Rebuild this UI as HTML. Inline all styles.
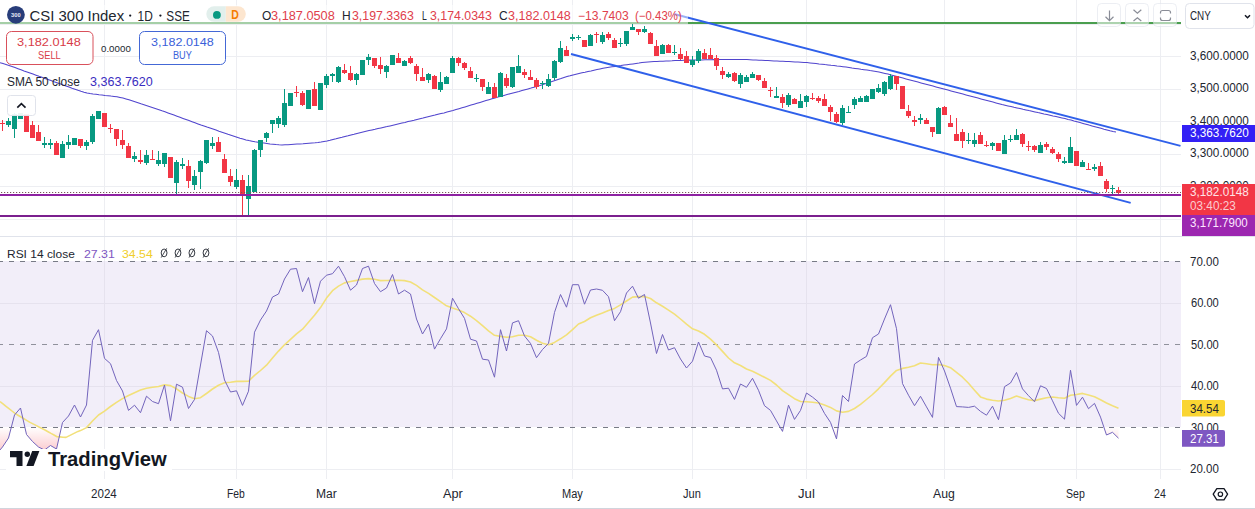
<!DOCTYPE html>
<html><head><meta charset="utf-8">
<style>
html,body{margin:0;padding:0;background:#fff;}
body{width:1255px;height:509px;overflow:hidden;position:relative;font-family:"Liberation Sans", sans-serif;color:#131722;}
</style></head>
<body>
<svg width="1255" height="509" viewBox="0 0 1255 509" style="position:absolute;left:0;top:0">
<defs>
<linearGradient id="osg" x1="0" y1="427" x2="0" y2="520" gradientUnits="userSpaceOnUse">
<stop offset="0" stop-color="#F23645" stop-opacity="0"/>
<stop offset="1" stop-color="#F23645" stop-opacity="1"/>
</linearGradient>
<clipPath id="below30"><rect x="0" y="427" width="1181" height="60"/></clipPath>
</defs>
<g shape-rendering="crispEdges">
<rect x="104" y="0" width="1" height="236" fill="#EDEEF2"/><rect x="104" y="237" width="1" height="242" fill="#EDEEF2"/><rect x="236" y="0" width="1" height="236" fill="#EDEEF2"/><rect x="236" y="237" width="1" height="242" fill="#EDEEF2"/><rect x="326" y="0" width="1" height="236" fill="#EDEEF2"/><rect x="326" y="237" width="1" height="242" fill="#EDEEF2"/><rect x="452" y="0" width="1" height="236" fill="#EDEEF2"/><rect x="452" y="237" width="1" height="242" fill="#EDEEF2"/><rect x="572" y="0" width="1" height="236" fill="#EDEEF2"/><rect x="572" y="237" width="1" height="242" fill="#EDEEF2"/><rect x="692" y="0" width="1" height="236" fill="#EDEEF2"/><rect x="692" y="237" width="1" height="242" fill="#EDEEF2"/><rect x="806" y="0" width="1" height="236" fill="#EDEEF2"/><rect x="806" y="237" width="1" height="242" fill="#EDEEF2"/><rect x="944" y="0" width="1" height="236" fill="#EDEEF2"/><rect x="944" y="237" width="1" height="242" fill="#EDEEF2"/><rect x="1076" y="0" width="1" height="236" fill="#EDEEF2"/><rect x="1076" y="237" width="1" height="242" fill="#EDEEF2"/><rect x="1160" y="0" width="1" height="236" fill="#EDEEF2"/><rect x="1160" y="237" width="1" height="242" fill="#EDEEF2"/><rect x="0" y="24" width="1181" height="1" fill="#EDEEF2"/><rect x="0" y="56" width="1181" height="1" fill="#EDEEF2"/><rect x="0" y="89" width="1181" height="1" fill="#EDEEF2"/><rect x="0" y="121" width="1181" height="1" fill="#EDEEF2"/><rect x="0" y="154" width="1181" height="1" fill="#EDEEF2"/><rect x="0" y="186" width="1181" height="1" fill="#EDEEF2"/><rect x="0" y="219" width="1181" height="1" fill="#EDEEF2"/>
<rect x="0" y="261" width="1181" height="166" fill="#F2EEF9"/>
<rect x="0" y="303" width="1181" height="1" fill="#E6E2EE"/><rect x="0" y="386" width="1181" height="1" fill="#E6E2EE"/><rect x="0" y="469" width="1181" height="1" fill="#EDEEF2"/>
<rect x="104" y="261" width="1" height="166" fill="#E6E2EE"/><rect x="236" y="261" width="1" height="166" fill="#E6E2EE"/><rect x="326" y="261" width="1" height="166" fill="#E6E2EE"/><rect x="452" y="261" width="1" height="166" fill="#E6E2EE"/><rect x="572" y="261" width="1" height="166" fill="#E6E2EE"/><rect x="692" y="261" width="1" height="166" fill="#E6E2EE"/><rect x="806" y="261" width="1" height="166" fill="#E6E2EE"/><rect x="944" y="261" width="1" height="166" fill="#E6E2EE"/><rect x="1076" y="261" width="1" height="166" fill="#E6E2EE"/><rect x="1160" y="261" width="1" height="166" fill="#E6E2EE"/>
</g>
<path d="M-3.5,427 L-3.5,454.0 L2.5,447.0 L8.5,438.0 L14.5,415.0 L20.5,408.0 L26.5,434.5 L32.5,441.5 L38.5,447.0 L44.5,450.0 L50.5,445.5 L56.5,449.0 L62.5,422.5 L68.5,416.0 L74.5,405.0 L80.5,417.0 L86.5,405.0 L92.5,340.4 L98.5,329.7 L104.5,358.4 L110.5,363.7 L116.5,380.5 L122.5,391.0 L128.5,410.4 L134.5,405.2 L140.5,412.7 L146.5,396.2 L152.5,401.5 L158.5,403.7 L164.5,385.0 L170.5,420.9 L176.5,384.2 L182.5,387.2 L188.5,408.5 L194.5,399.5 L200.5,365.0 L206.5,330.7 L212.5,336.0 L218.5,352.4 L224.5,380.0 L230.5,392.0 L236.5,390.8 L242.5,405.4 L248.5,391.2 L254.5,332.2 L260.5,320.0 L266.5,311.0 L272.5,297.0 L278.5,294.0 L284.5,279.0 L290.5,269.2 L296.5,268.5 L302.5,291.7 L308.5,277.5 L314.5,303.7 L320.5,281.2 L326.5,275.2 L332.5,273.7 L338.5,266.2 L344.5,276.7 L350.5,290.2 L356.5,285.0 L362.5,268.5 L368.5,266.2 L374.5,283.5 L380.5,291.7 L386.5,288.0 L392.5,274.5 L398.5,294.0 L404.5,290.2 L410.5,294.0 L416.5,319.0 L422.5,334.0 L428.5,324.2 L434.5,349.1 L440.5,338.7 L446.5,328.9 L452.5,298.2 L458.5,308.7 L464.5,318.4 L470.5,339.2 L476.5,341.0 L482.5,359.2 L488.5,360.0 L494.5,377.2 L500.5,329.7 L506.5,351.0 L512.5,322.9 L518.5,320.7 L524.5,336.0 L530.5,343.4 L536.5,357.7 L542.5,349.5 L548.5,343.4 L554.5,312.4 L560.5,294.5 L566.5,307.2 L572.5,284.7 L578.5,284.7 L584.5,304.2 L590.5,290.0 L596.5,289.0 L602.5,290.3 L608.5,296.7 L614.5,320.7 L620.5,311.7 L626.5,293.0 L632.5,286.2 L638.5,298.2 L644.5,294.5 L650.5,323.0 L656.5,353.5 L662.5,334.5 L668.5,350.0 L674.5,347.7 L680.5,359.0 L686.5,368.0 L692.5,361.2 L698.5,342.0 L704.5,356.0 L710.5,357.5 L716.5,370.2 L722.5,388.9 L728.5,388.2 L734.5,399.4 L740.5,384.0 L746.5,387.3 L752.5,378.3 L758.5,390.3 L764.5,405.7 L770.5,410.4 L776.5,420.9 L782.5,431.4 L788.5,405.2 L794.5,419.4 L800.5,410.4 L806.5,393.0 L812.5,397.1 L818.5,402.0 L824.5,413.4 L830.5,422.4 L836.5,438.9 L842.5,395.5 L848.5,401.5 L854.5,364.0 L860.5,360.0 L866.5,356.4 L872.5,337.7 L878.5,334.0 L884.5,319.0 L890.5,304.7 L896.5,328.7 L902.5,383.6 L908.5,395.2 L914.5,405.7 L920.5,396.3 L926.5,406.9 L932.5,417.4 L938.5,357.4 L944.5,371.0 L950.5,388.2 L956.5,406.6 L962.5,406.9 L968.5,407.4 L974.5,406.2 L980.5,411.4 L986.5,415.2 L992.5,406.2 L998.5,419.7 L1004.5,386.7 L1010.5,383.0 L1016.5,372.5 L1022.5,388.9 L1028.5,395.7 L1034.5,401.7 L1040.5,385.8 L1046.5,388.5 L1052.5,400.8 L1058.5,413.3 L1064.5,419.2 L1070.5,370.2 L1076.5,405.4 L1082.5,397.2 L1088.5,408.7 L1094.5,403.4 L1100.5,417.1 L1106.5,435.0 L1112.5,432.3 L1118.5,438.2 L1118.5,427 Z" fill="url(#osg)" clip-path="url(#below30)"/>
<!-- pane separator -->
<rect x="0" y="236" width="1255" height="1" fill="#E0E3EB" shape-rendering="crispEdges"/>
<!-- dashed RSI levels -->
<line x1="0" y1="261.5" x2="1181" y2="261.5" stroke="#787B86" stroke-width="1" stroke-dasharray="5 6" stroke-dashoffset="2"/>
<line x1="0" y1="344.5" x2="1181" y2="344.5" stroke="#787B86" stroke-width="1" stroke-dasharray="5 6" stroke-dashoffset="2" opacity="0.8"/>
<line x1="0" y1="427.5" x2="1181" y2="427.5" stroke="#787B86" stroke-width="1" stroke-dasharray="5 6" stroke-dashoffset="2"/>
<!-- green horizontal line -->
<rect x="0" y="22" width="1181" height="2" fill="#4A9E4E" shape-rendering="crispEdges"/>
<!-- SMA -->
<path d="M0.0,62.8 L3.0,63.5 L6.0,64.4 L9.0,65.4 L12.0,66.5 L15.0,67.6 L18.0,68.7 L21.0,69.8 L24.0,70.9 L27.0,71.9 L30.0,73.0 L33.0,74.1 L36.0,75.2 L39.0,76.3 L42.0,77.3 L45.0,78.4 L48.0,79.5 L51.0,80.6 L54.0,81.7 L57.0,82.7 L60.0,83.8 L63.0,84.9 L66.0,86.0 L69.0,87.1 L72.0,88.2 L75.0,89.2 L78.0,90.3 L81.0,91.3 L84.0,92.2 L87.0,93.0 L90.0,93.6 L93.0,94.0 L96.0,94.3 L99.0,94.7 L102.0,95.0 L105.0,95.4 L108.0,95.7 L111.0,96.1 L114.0,96.4 L117.0,96.8 L120.0,97.4 L123.0,98.1 L126.0,98.9 L129.0,99.8 L132.0,100.8 L135.0,101.8 L138.0,102.8 L141.0,103.8 L144.0,104.7 L147.0,105.7 L150.0,106.7 L153.0,107.7 L156.0,108.7 L159.0,109.7 L162.0,110.8 L165.0,111.8 L168.0,112.9 L171.0,114.0 L174.0,115.1 L177.0,116.2 L180.0,117.3 L183.0,118.4 L186.0,119.5 L189.0,120.6 L192.0,121.7 L195.0,122.8 L198.0,123.9 L201.0,125.0 L204.0,126.0 L207.0,127.1 L210.0,128.1 L213.0,129.1 L216.0,130.1 L219.0,131.2 L222.0,132.2 L225.0,133.2 L228.0,134.3 L231.0,135.3 L234.0,136.3 L237.0,137.3 L240.0,138.3 L243.0,139.1 L246.0,139.9 L249.0,140.6 L252.0,141.2 L255.0,141.8 L258.0,142.3 L261.0,142.7 L264.0,143.1 L267.0,143.5 L270.0,143.9 L273.0,144.2 L276.0,144.6 L279.0,144.8 L282.0,144.9 L285.0,144.8 L288.0,144.7 L291.0,144.5 L294.0,144.3 L297.0,144.1 L300.0,143.9 L303.0,143.7 L306.0,143.4 L309.0,143.2 L312.0,143.0 L315.0,142.8 L318.0,142.5 L321.0,142.1 L324.0,141.5 L327.0,140.9 L330.0,140.2 L333.0,139.4 L336.0,138.7 L339.0,137.9 L342.0,137.2 L345.0,136.4 L348.0,135.7 L351.0,134.9 L354.0,134.2 L357.0,133.4 L360.0,132.7 L363.0,132.0 L366.0,131.3 L369.0,130.6 L372.0,129.9 L375.0,129.3 L378.0,128.6 L381.0,127.9 L384.0,127.2 L387.0,126.6 L390.0,125.9 L393.0,125.2 L396.0,124.5 L399.0,123.8 L402.0,123.1 L405.0,122.4 L408.0,121.6 L411.0,120.9 L414.0,120.2 L417.0,119.4 L420.0,118.7 L423.0,118.0 L426.0,117.2 L429.0,116.5 L432.0,115.8 L435.0,115.1 L438.0,114.3 L441.0,113.6 L444.0,112.9 L447.0,112.1 L450.0,111.3 L453.0,110.5 L456.0,109.6 L459.0,108.7 L462.0,107.8 L465.0,106.9 L468.0,106.0 L471.0,105.1 L474.0,104.2 L477.0,103.3 L480.0,102.4 L483.0,101.5 L486.0,100.6 L489.0,99.7 L492.0,98.8 L495.0,97.9 L498.0,97.1 L501.0,96.3 L504.0,95.4 L507.0,94.6 L510.0,93.8 L513.0,93.0 L516.0,92.2 L519.0,91.4 L522.0,90.5 L525.0,89.7 L528.0,88.9 L531.0,88.1 L534.0,87.2 L537.0,86.3 L540.0,85.4 L543.0,84.4 L546.0,83.4 L549.0,82.5 L552.0,81.5 L555.0,80.5 L558.0,79.5 L561.0,78.6 L564.0,77.6 L567.0,76.6 L570.0,75.8 L573.0,74.9 L576.0,74.2 L579.0,73.5 L582.0,72.8 L585.0,72.2 L588.0,71.5 L591.0,70.9 L594.0,70.2 L597.0,69.5 L600.0,68.9 L603.0,68.3 L606.0,67.8 L609.0,67.3 L612.0,66.8 L615.0,66.4 L618.0,66.0 L621.0,65.6 L624.0,65.1 L627.0,64.7 L630.0,64.3 L633.0,63.9 L636.0,63.5 L639.0,63.1 L642.0,62.6 L645.0,62.3 L648.0,62.0 L651.0,61.7 L654.0,61.5 L657.0,61.4 L660.0,61.3 L663.0,61.2 L666.0,61.0 L669.0,60.9 L672.0,60.8 L675.0,60.6 L678.0,60.5 L681.0,60.4 L684.0,60.3 L687.0,60.2 L690.0,60.1 L693.0,60.1 L696.0,60.0 L699.0,59.9 L702.0,59.9 L705.0,59.8 L708.0,59.7 L711.0,59.7 L714.0,59.6 L717.0,59.6 L720.0,59.5 L723.0,59.5 L726.0,59.5 L729.0,59.5 L732.0,59.5 L735.0,59.5 L738.0,59.5 L741.0,59.5 L744.0,59.5 L747.0,59.6 L750.0,59.7 L753.0,59.9 L756.0,60.0 L759.0,60.2 L762.0,60.3 L765.0,60.5 L768.0,60.6 L771.0,60.7 L774.0,60.9 L777.0,61.0 L780.0,61.2 L783.0,61.3 L786.0,61.5 L789.0,61.6 L792.0,61.7 L795.0,61.9 L798.0,62.0 L801.0,62.2 L804.0,62.4 L807.0,62.6 L810.0,62.9 L813.0,63.2 L816.0,63.5 L819.0,63.9 L822.0,64.2 L825.0,64.6 L828.0,64.9 L831.0,65.3 L834.0,65.6 L837.0,66.0 L840.0,66.3 L843.0,66.7 L846.0,67.1 L849.0,67.5 L852.0,68.0 L855.0,68.4 L858.0,68.8 L861.0,69.3 L864.0,69.7 L867.0,70.1 L870.0,70.6 L873.0,71.0 L876.0,71.5 L879.0,72.0 L882.0,72.7 L885.0,73.4 L888.0,74.1 L891.0,74.9 L894.0,75.7 L897.0,76.5 L900.0,77.3 L903.0,78.1 L906.0,78.9 L909.0,79.7 L912.0,80.5 L915.0,81.3 L918.0,82.1 L921.0,82.9 L924.0,83.7 L927.0,84.5 L930.0,85.3 L933.0,86.1 L936.0,86.9 L939.0,87.7 L942.0,88.5 L945.0,89.3 L948.0,90.1 L951.0,90.9 L954.0,91.7 L957.0,92.5 L960.0,93.3 L963.0,94.1 L966.0,94.9 L969.0,95.7 L972.0,96.5 L975.0,97.3 L978.0,98.1 L981.0,98.9 L984.0,99.7 L987.0,100.5 L990.0,101.3 L993.0,102.1 L996.0,102.9 L999.0,103.7 L1002.0,104.5 L1005.0,105.2 L1008.0,105.9 L1011.0,106.6 L1014.0,107.3 L1017.0,107.9 L1020.0,108.6 L1023.0,109.3 L1026.0,109.9 L1029.0,110.6 L1032.0,111.2 L1035.0,111.9 L1038.0,112.6 L1041.0,113.2 L1044.0,113.9 L1047.0,114.5 L1050.0,115.2 L1053.0,115.9 L1056.0,116.5 L1059.0,117.2 L1062.0,117.9 L1065.0,118.6 L1068.0,119.4 L1071.0,120.1 L1074.0,121.0 L1077.0,121.8 L1080.0,122.6 L1083.0,123.4 L1086.0,124.2 L1089.0,125.1 L1092.0,125.9 L1095.0,126.7 L1098.0,127.5 L1101.0,128.3 L1104.0,129.2 L1107.0,130.0 L1110.0,130.8 L1113.0,131.5 L1116.0,132.0" fill="none" stroke="#3D30C8" stroke-width="1.05" opacity="0.9"/>
<!-- candles -->
<g shape-rendering="crispEdges"><rect x="2" y="120" width="1" height="11" fill="#F23645"/><rect x="0" y="123" width="5" height="1" fill="#F23645"/><rect x="8" y="118" width="1" height="9" fill="#089981"/><rect x="6" y="121" width="5" height="4" fill="#089981"/><rect x="14" y="113" width="1" height="25" fill="#089981"/><rect x="12" y="114" width="5" height="15" fill="#089981"/><rect x="20" y="113" width="1" height="6" fill="#089981"/><rect x="18" y="113" width="5" height="6" fill="#089981"/><rect x="26" y="114" width="1" height="18" fill="#F23645"/><rect x="24" y="114" width="5" height="18" fill="#F23645"/><rect x="32" y="121" width="1" height="17" fill="#F23645"/><rect x="30" y="125" width="5" height="13" fill="#F23645"/><rect x="38" y="125" width="1" height="16" fill="#F23645"/><rect x="36" y="132" width="5" height="9" fill="#F23645"/><rect x="44" y="137" width="1" height="11" fill="#089981"/><rect x="42" y="143" width="5" height="2" fill="#089981"/><rect x="50" y="139" width="1" height="10" fill="#089981"/><rect x="48" y="143" width="5" height="2" fill="#089981"/><rect x="56" y="141" width="1" height="14" fill="#F23645"/><rect x="54" y="143" width="5" height="12" fill="#F23645"/><rect x="62" y="141" width="1" height="17" fill="#089981"/><rect x="60" y="144" width="5" height="14" fill="#089981"/><rect x="68" y="135" width="1" height="14" fill="#089981"/><rect x="66" y="142" width="5" height="3" fill="#089981"/><rect x="74" y="138" width="1" height="7" fill="#089981"/><rect x="72" y="138" width="5" height="7" fill="#089981"/><rect x="80" y="139" width="1" height="9" fill="#F23645"/><rect x="78" y="139" width="5" height="7" fill="#F23645"/><rect x="86" y="140" width="1" height="10" fill="#089981"/><rect x="84" y="142" width="5" height="4" fill="#089981"/><rect x="92" y="114" width="1" height="30" fill="#089981"/><rect x="90" y="116" width="5" height="26" fill="#089981"/><rect x="98" y="111" width="1" height="8" fill="#089981"/><rect x="96" y="111" width="5" height="8" fill="#089981"/><rect x="104" y="113" width="1" height="14" fill="#F23645"/><rect x="102" y="113" width="5" height="14" fill="#F23645"/><rect x="110" y="124" width="1" height="9" fill="#F23645"/><rect x="108" y="128" width="5" height="1" fill="#F23645"/><rect x="116" y="129" width="1" height="17" fill="#F23645"/><rect x="114" y="129" width="5" height="10" fill="#F23645"/><rect x="122" y="130" width="1" height="19" fill="#F23645"/><rect x="120" y="140" width="5" height="5" fill="#F23645"/><rect x="128" y="143" width="1" height="15" fill="#F23645"/><rect x="126" y="146" width="5" height="12" fill="#F23645"/><rect x="134" y="152" width="1" height="10" fill="#089981"/><rect x="132" y="156" width="5" height="3" fill="#089981"/><rect x="140" y="150" width="1" height="14" fill="#F23645"/><rect x="138" y="160" width="5" height="2" fill="#F23645"/><rect x="146" y="150" width="1" height="15" fill="#089981"/><rect x="144" y="155" width="5" height="8" fill="#089981"/><rect x="152" y="150" width="1" height="10" fill="#F23645"/><rect x="150" y="159" width="5" height="1" fill="#F23645"/><rect x="158" y="151" width="1" height="15" fill="#089981"/><rect x="156" y="160" width="5" height="4" fill="#089981"/><rect x="164" y="153" width="1" height="14" fill="#089981"/><rect x="162" y="153" width="5" height="11" fill="#089981"/><rect x="170" y="157" width="1" height="21" fill="#F23645"/><rect x="168" y="157" width="5" height="21" fill="#F23645"/><rect x="176" y="160" width="1" height="34" fill="#089981"/><rect x="174" y="162" width="5" height="21" fill="#089981"/><rect x="182" y="158" width="1" height="11" fill="#089981"/><rect x="180" y="164" width="5" height="2" fill="#089981"/><rect x="188" y="160" width="1" height="28" fill="#F23645"/><rect x="186" y="166" width="5" height="15" fill="#F23645"/><rect x="194" y="170" width="1" height="20" fill="#089981"/><rect x="192" y="176" width="5" height="9" fill="#089981"/><rect x="200" y="160" width="1" height="29" fill="#089981"/><rect x="198" y="161" width="5" height="11" fill="#089981"/><rect x="206" y="140" width="1" height="24" fill="#089981"/><rect x="204" y="140" width="5" height="23" fill="#089981"/><rect x="212" y="137" width="1" height="12" fill="#089981"/><rect x="210" y="143" width="5" height="3" fill="#089981"/><rect x="218" y="137" width="1" height="15" fill="#F23645"/><rect x="216" y="142" width="5" height="10" fill="#F23645"/><rect x="224" y="154" width="1" height="19" fill="#F23645"/><rect x="222" y="159" width="5" height="14" fill="#F23645"/><rect x="230" y="169" width="1" height="17" fill="#F23645"/><rect x="228" y="176" width="5" height="6" fill="#F23645"/><rect x="236" y="169" width="1" height="20" fill="#089981"/><rect x="234" y="180" width="5" height="7" fill="#089981"/><rect x="242" y="175" width="1" height="41" fill="#F23645"/><rect x="240" y="180" width="5" height="14" fill="#F23645"/><rect x="248" y="175" width="1" height="41" fill="#089981"/><rect x="246" y="186" width="5" height="13" fill="#089981"/><rect x="254" y="149" width="1" height="43" fill="#089981"/><rect x="252" y="150" width="5" height="42" fill="#089981"/><rect x="260" y="140" width="1" height="17" fill="#089981"/><rect x="258" y="140" width="5" height="10" fill="#089981"/><rect x="266" y="132" width="1" height="10" fill="#089981"/><rect x="264" y="133" width="5" height="5" fill="#089981"/><rect x="272" y="120" width="1" height="13" fill="#089981"/><rect x="270" y="120" width="5" height="4" fill="#089981"/><rect x="278" y="116" width="1" height="12" fill="#089981"/><rect x="276" y="118" width="5" height="6" fill="#089981"/><rect x="284" y="89" width="1" height="38" fill="#089981"/><rect x="282" y="103" width="5" height="22" fill="#089981"/><rect x="290" y="93" width="1" height="13" fill="#089981"/><rect x="288" y="93" width="5" height="13" fill="#089981"/><rect x="296" y="86" width="1" height="11" fill="#F23645"/><rect x="294" y="92" width="5" height="1" fill="#F23645"/><rect x="302" y="91" width="1" height="15" fill="#F23645"/><rect x="300" y="93" width="5" height="12" fill="#F23645"/><rect x="308" y="90" width="1" height="19" fill="#089981"/><rect x="306" y="90" width="5" height="19" fill="#089981"/><rect x="314" y="82" width="1" height="24" fill="#F23645"/><rect x="312" y="89" width="5" height="17" fill="#F23645"/><rect x="320" y="83" width="1" height="27" fill="#089981"/><rect x="318" y="83" width="5" height="27" fill="#089981"/><rect x="326" y="74" width="1" height="14" fill="#089981"/><rect x="324" y="76" width="5" height="9" fill="#089981"/><rect x="332" y="73" width="1" height="9" fill="#089981"/><rect x="330" y="74" width="5" height="2" fill="#089981"/><rect x="338" y="66" width="1" height="17" fill="#089981"/><rect x="336" y="67" width="5" height="15" fill="#089981"/><rect x="344" y="64" width="1" height="10" fill="#F23645"/><rect x="342" y="70" width="5" height="3" fill="#F23645"/><rect x="350" y="66" width="1" height="15" fill="#F23645"/><rect x="348" y="73" width="5" height="7" fill="#F23645"/><rect x="356" y="73" width="1" height="12" fill="#089981"/><rect x="354" y="74" width="5" height="6" fill="#089981"/><rect x="362" y="60" width="1" height="15" fill="#089981"/><rect x="360" y="60" width="5" height="15" fill="#089981"/><rect x="368" y="54" width="1" height="11" fill="#089981"/><rect x="366" y="57" width="5" height="3" fill="#089981"/><rect x="374" y="58" width="1" height="10" fill="#F23645"/><rect x="372" y="58" width="5" height="8" fill="#F23645"/><rect x="380" y="57" width="1" height="17" fill="#F23645"/><rect x="378" y="65" width="5" height="4" fill="#F23645"/><rect x="386" y="65" width="1" height="13" fill="#089981"/><rect x="384" y="66" width="5" height="6" fill="#089981"/><rect x="392" y="55" width="1" height="10" fill="#089981"/><rect x="390" y="55" width="5" height="10" fill="#089981"/><rect x="398" y="53" width="1" height="10" fill="#F23645"/><rect x="396" y="58" width="5" height="5" fill="#F23645"/><rect x="404" y="60" width="1" height="6" fill="#089981"/><rect x="402" y="61" width="5" height="5" fill="#089981"/><rect x="410" y="56" width="1" height="8" fill="#F23645"/><rect x="408" y="58" width="5" height="5" fill="#F23645"/><rect x="416" y="64" width="1" height="17" fill="#F23645"/><rect x="414" y="66" width="5" height="8" fill="#F23645"/><rect x="422" y="68" width="1" height="13" fill="#F23645"/><rect x="420" y="77" width="5" height="4" fill="#F23645"/><rect x="428" y="73" width="1" height="10" fill="#089981"/><rect x="426" y="74" width="5" height="6" fill="#089981"/><rect x="434" y="75" width="1" height="14" fill="#F23645"/><rect x="432" y="76" width="5" height="13" fill="#F23645"/><rect x="440" y="72" width="1" height="20" fill="#089981"/><rect x="438" y="82" width="5" height="8" fill="#089981"/><rect x="446" y="76" width="1" height="8" fill="#089981"/><rect x="444" y="77" width="5" height="7" fill="#089981"/><rect x="452" y="56" width="1" height="17" fill="#089981"/><rect x="450" y="58" width="5" height="15" fill="#089981"/><rect x="458" y="57" width="1" height="9" fill="#F23645"/><rect x="456" y="58" width="5" height="5" fill="#F23645"/><rect x="464" y="62" width="1" height="8" fill="#F23645"/><rect x="462" y="63" width="5" height="5" fill="#F23645"/><rect x="470" y="67" width="1" height="11" fill="#F23645"/><rect x="468" y="71" width="5" height="7" fill="#F23645"/><rect x="476" y="74" width="1" height="8" fill="#089981"/><rect x="474" y="78" width="5" height="1" fill="#089981"/><rect x="482" y="79" width="1" height="12" fill="#F23645"/><rect x="480" y="79" width="5" height="8" fill="#F23645"/><rect x="488" y="82" width="1" height="12" fill="#089981"/><rect x="486" y="87" width="5" height="7" fill="#089981"/><rect x="494" y="83" width="1" height="15" fill="#F23645"/><rect x="492" y="87" width="5" height="11" fill="#F23645"/><rect x="500" y="72" width="1" height="25" fill="#089981"/><rect x="498" y="73" width="5" height="24" fill="#089981"/><rect x="506" y="74" width="1" height="14" fill="#F23645"/><rect x="504" y="78" width="5" height="8" fill="#F23645"/><rect x="512" y="67" width="1" height="21" fill="#089981"/><rect x="510" y="67" width="5" height="20" fill="#089981"/><rect x="518" y="55" width="1" height="18" fill="#089981"/><rect x="516" y="66" width="5" height="7" fill="#089981"/><rect x="524" y="69" width="1" height="9" fill="#F23645"/><rect x="522" y="72" width="5" height="3" fill="#F23645"/><rect x="530" y="70" width="1" height="10" fill="#F23645"/><rect x="528" y="77" width="5" height="3" fill="#F23645"/><rect x="536" y="78" width="1" height="11" fill="#F23645"/><rect x="534" y="80" width="5" height="7" fill="#F23645"/><rect x="542" y="81" width="1" height="8" fill="#089981"/><rect x="540" y="83" width="5" height="1" fill="#089981"/><rect x="548" y="74" width="1" height="13" fill="#089981"/><rect x="546" y="79" width="5" height="7" fill="#089981"/><rect x="554" y="60" width="1" height="20" fill="#089981"/><rect x="552" y="61" width="5" height="17" fill="#089981"/><rect x="560" y="41" width="1" height="22" fill="#089981"/><rect x="558" y="48" width="5" height="14" fill="#089981"/><rect x="566" y="46" width="1" height="10" fill="#F23645"/><rect x="564" y="50" width="5" height="6" fill="#F23645"/><rect x="572" y="34" width="1" height="7" fill="#089981"/><rect x="570" y="37" width="5" height="2" fill="#089981"/><rect x="578" y="35" width="1" height="5" fill="#089981"/><rect x="576" y="37" width="5" height="1" fill="#089981"/><rect x="584" y="40" width="1" height="7" fill="#F23645"/><rect x="582" y="40" width="5" height="7" fill="#F23645"/><rect x="590" y="34" width="1" height="12" fill="#089981"/><rect x="588" y="35" width="5" height="11" fill="#089981"/><rect x="596" y="32" width="1" height="11" fill="#F23645"/><rect x="594" y="34" width="5" height="1" fill="#F23645"/><rect x="602" y="32" width="1" height="12" fill="#089981"/><rect x="600" y="35" width="5" height="7" fill="#089981"/><rect x="608" y="32" width="1" height="8" fill="#F23645"/><rect x="606" y="34" width="5" height="4" fill="#F23645"/><rect x="614" y="38" width="1" height="10" fill="#F23645"/><rect x="612" y="40" width="5" height="8" fill="#F23645"/><rect x="620" y="38" width="1" height="9" fill="#089981"/><rect x="618" y="43" width="5" height="1" fill="#089981"/><rect x="626" y="31" width="1" height="15" fill="#089981"/><rect x="624" y="31" width="5" height="13" fill="#089981"/><rect x="632" y="24" width="1" height="6" fill="#089981"/><rect x="630" y="27" width="5" height="3" fill="#089981"/><rect x="638" y="29" width="1" height="6" fill="#F23645"/><rect x="636" y="29" width="5" height="3" fill="#F23645"/><rect x="644" y="26" width="1" height="7" fill="#089981"/><rect x="642" y="29" width="5" height="3" fill="#089981"/><rect x="650" y="32" width="1" height="12" fill="#F23645"/><rect x="648" y="33" width="5" height="11" fill="#F23645"/><rect x="656" y="40" width="1" height="16" fill="#F23645"/><rect x="654" y="46" width="5" height="10" fill="#F23645"/><rect x="662" y="44" width="1" height="10" fill="#089981"/><rect x="660" y="45" width="5" height="9" fill="#089981"/><rect x="668" y="44" width="1" height="9" fill="#F23645"/><rect x="666" y="45" width="5" height="8" fill="#F23645"/><rect x="674" y="45" width="1" height="10" fill="#089981"/><rect x="672" y="52" width="5" height="1" fill="#089981"/><rect x="680" y="48" width="1" height="12" fill="#F23645"/><rect x="678" y="54" width="5" height="5" fill="#F23645"/><rect x="686" y="51" width="1" height="12" fill="#F23645"/><rect x="684" y="56" width="5" height="7" fill="#F23645"/><rect x="692" y="56" width="1" height="11" fill="#089981"/><rect x="690" y="60" width="5" height="5" fill="#089981"/><rect x="698" y="49" width="1" height="14" fill="#089981"/><rect x="696" y="51" width="5" height="10" fill="#089981"/><rect x="704" y="49" width="1" height="10" fill="#F23645"/><rect x="702" y="53" width="5" height="6" fill="#F23645"/><rect x="710" y="48" width="1" height="11" fill="#F23645"/><rect x="708" y="55" width="5" height="4" fill="#F23645"/><rect x="716" y="55" width="1" height="15" fill="#F23645"/><rect x="714" y="58" width="5" height="8" fill="#F23645"/><rect x="722" y="67" width="1" height="12" fill="#F23645"/><rect x="720" y="71" width="5" height="4" fill="#F23645"/><rect x="728" y="72" width="1" height="6" fill="#089981"/><rect x="726" y="74" width="5" height="3" fill="#089981"/><rect x="734" y="72" width="1" height="10" fill="#F23645"/><rect x="732" y="73" width="5" height="8" fill="#F23645"/><rect x="740" y="73" width="1" height="15" fill="#089981"/><rect x="738" y="75" width="5" height="9" fill="#089981"/><rect x="746" y="75" width="1" height="7" fill="#089981"/><rect x="744" y="77" width="5" height="5" fill="#089981"/><rect x="752" y="72" width="1" height="6" fill="#089981"/><rect x="750" y="74" width="5" height="4" fill="#089981"/><rect x="758" y="75" width="1" height="6" fill="#F23645"/><rect x="756" y="75" width="5" height="5" fill="#F23645"/><rect x="764" y="78" width="1" height="10" fill="#F23645"/><rect x="762" y="81" width="5" height="7" fill="#F23645"/><rect x="770" y="87" width="1" height="10" fill="#F23645"/><rect x="768" y="90" width="5" height="1" fill="#F23645"/><rect x="776" y="87" width="1" height="11" fill="#089981"/><rect x="774" y="96" width="5" height="2" fill="#089981"/><rect x="782" y="94" width="1" height="14" fill="#F23645"/><rect x="780" y="97" width="5" height="6" fill="#F23645"/><rect x="788" y="93" width="1" height="14" fill="#089981"/><rect x="786" y="95" width="5" height="10" fill="#089981"/><rect x="794" y="98" width="1" height="6" fill="#F23645"/><rect x="792" y="99" width="5" height="5" fill="#F23645"/><rect x="800" y="94" width="1" height="14" fill="#089981"/><rect x="798" y="101" width="5" height="7" fill="#089981"/><rect x="806" y="95" width="1" height="12" fill="#089981"/><rect x="804" y="96" width="5" height="6" fill="#089981"/><rect x="812" y="93" width="1" height="7" fill="#F23645"/><rect x="810" y="98" width="5" height="1" fill="#F23645"/><rect x="818" y="96" width="1" height="7" fill="#F23645"/><rect x="816" y="98" width="5" height="3" fill="#F23645"/><rect x="824" y="94" width="1" height="12" fill="#F23645"/><rect x="822" y="99" width="5" height="7" fill="#F23645"/><rect x="830" y="105" width="1" height="16" fill="#F23645"/><rect x="828" y="107" width="5" height="5" fill="#F23645"/><rect x="836" y="112" width="1" height="11" fill="#F23645"/><rect x="834" y="114" width="5" height="8" fill="#F23645"/><rect x="842" y="105" width="1" height="20" fill="#089981"/><rect x="840" y="108" width="5" height="15" fill="#089981"/><rect x="848" y="106" width="1" height="7" fill="#089981"/><rect x="846" y="112" width="5" height="1" fill="#089981"/><rect x="854" y="97" width="1" height="12" fill="#089981"/><rect x="852" y="99" width="5" height="6" fill="#089981"/><rect x="860" y="96" width="1" height="6" fill="#089981"/><rect x="858" y="98" width="5" height="4" fill="#089981"/><rect x="866" y="95" width="1" height="7" fill="#089981"/><rect x="864" y="96" width="5" height="6" fill="#089981"/><rect x="872" y="89" width="1" height="10" fill="#089981"/><rect x="870" y="89" width="5" height="10" fill="#089981"/><rect x="878" y="84" width="1" height="9" fill="#089981"/><rect x="876" y="88" width="5" height="4" fill="#089981"/><rect x="884" y="81" width="1" height="15" fill="#089981"/><rect x="882" y="82" width="5" height="12" fill="#089981"/><rect x="890" y="74" width="1" height="16" fill="#089981"/><rect x="888" y="76" width="5" height="13" fill="#089981"/><rect x="896" y="76" width="1" height="14" fill="#F23645"/><rect x="894" y="76" width="5" height="8" fill="#F23645"/><rect x="902" y="86" width="1" height="23" fill="#F23645"/><rect x="900" y="86" width="5" height="23" fill="#F23645"/><rect x="908" y="105" width="1" height="13" fill="#F23645"/><rect x="906" y="111" width="5" height="5" fill="#F23645"/><rect x="914" y="116" width="1" height="10" fill="#F23645"/><rect x="912" y="120" width="5" height="2" fill="#F23645"/><rect x="920" y="114" width="1" height="10" fill="#089981"/><rect x="918" y="118" width="5" height="2" fill="#089981"/><rect x="926" y="118" width="1" height="6" fill="#F23645"/><rect x="924" y="120" width="5" height="4" fill="#F23645"/><rect x="932" y="127" width="1" height="10" fill="#F23645"/><rect x="930" y="127" width="5" height="5" fill="#F23645"/><rect x="938" y="107" width="1" height="27" fill="#089981"/><rect x="936" y="108" width="5" height="26" fill="#089981"/><rect x="944" y="106" width="1" height="9" fill="#F23645"/><rect x="942" y="107" width="5" height="8" fill="#F23645"/><rect x="950" y="115" width="1" height="12" fill="#F23645"/><rect x="948" y="123" width="5" height="4" fill="#F23645"/><rect x="956" y="118" width="1" height="23" fill="#F23645"/><rect x="954" y="134" width="5" height="7" fill="#F23645"/><rect x="962" y="129" width="1" height="19" fill="#F23645"/><rect x="960" y="132" width="5" height="9" fill="#F23645"/><rect x="968" y="133" width="1" height="11" fill="#089981"/><rect x="966" y="140" width="5" height="1" fill="#089981"/><rect x="974" y="133" width="1" height="14" fill="#089981"/><rect x="972" y="140" width="5" height="4" fill="#089981"/><rect x="980" y="132" width="1" height="12" fill="#F23645"/><rect x="978" y="135" width="5" height="9" fill="#F23645"/><rect x="986" y="141" width="1" height="6" fill="#F23645"/><rect x="984" y="145" width="5" height="1" fill="#F23645"/><rect x="992" y="142" width="1" height="8" fill="#089981"/><rect x="990" y="143" width="5" height="3" fill="#089981"/><rect x="998" y="143" width="1" height="8" fill="#F23645"/><rect x="996" y="143" width="5" height="8" fill="#F23645"/><rect x="1004" y="135" width="1" height="19" fill="#089981"/><rect x="1002" y="140" width="5" height="14" fill="#089981"/><rect x="1010" y="135" width="1" height="7" fill="#089981"/><rect x="1008" y="139" width="5" height="1" fill="#089981"/><rect x="1016" y="129" width="1" height="11" fill="#089981"/><rect x="1014" y="135" width="5" height="5" fill="#089981"/><rect x="1022" y="133" width="1" height="14" fill="#F23645"/><rect x="1020" y="134" width="5" height="10" fill="#F23645"/><rect x="1028" y="141" width="1" height="10" fill="#F23645"/><rect x="1026" y="146" width="5" height="1" fill="#F23645"/><rect x="1034" y="145" width="1" height="7" fill="#F23645"/><rect x="1032" y="146" width="5" height="4" fill="#F23645"/><rect x="1040" y="142" width="1" height="11" fill="#089981"/><rect x="1038" y="145" width="5" height="8" fill="#089981"/><rect x="1046" y="142" width="1" height="8" fill="#F23645"/><rect x="1044" y="144" width="5" height="3" fill="#F23645"/><rect x="1052" y="147" width="1" height="7" fill="#F23645"/><rect x="1050" y="149" width="5" height="4" fill="#F23645"/><rect x="1058" y="152" width="1" height="10" fill="#F23645"/><rect x="1056" y="154" width="5" height="5" fill="#F23645"/><rect x="1064" y="157" width="1" height="7" fill="#089981"/><rect x="1062" y="161" width="5" height="2" fill="#089981"/><rect x="1070" y="137" width="1" height="26" fill="#089981"/><rect x="1068" y="147" width="5" height="16" fill="#089981"/><rect x="1076" y="151" width="1" height="15" fill="#F23645"/><rect x="1074" y="151" width="5" height="15" fill="#F23645"/><rect x="1082" y="160" width="1" height="7" fill="#089981"/><rect x="1080" y="162" width="5" height="5" fill="#089981"/><rect x="1088" y="163" width="1" height="7" fill="#F23645"/><rect x="1086" y="169" width="5" height="1" fill="#F23645"/><rect x="1094" y="164" width="1" height="7" fill="#089981"/><rect x="1092" y="167" width="5" height="2" fill="#089981"/><rect x="1100" y="162" width="1" height="14" fill="#F23645"/><rect x="1098" y="166" width="5" height="10" fill="#F23645"/><rect x="1106" y="179" width="1" height="13" fill="#F23645"/><rect x="1104" y="181" width="5" height="8" fill="#F23645"/><rect x="1112" y="185" width="1" height="9" fill="#089981"/><rect x="1110" y="188" width="5" height="1" fill="#089981"/><rect x="1118" y="187" width="1" height="7" fill="#F23645"/><rect x="1116" y="190" width="5" height="3" fill="#F23645"/></g>
<!-- trend lines -->
<line x1="674" y1="14" x2="1180.5" y2="145.8" stroke="#2F60EA" stroke-width="1.9"/>
<line x1="571" y1="54" x2="1130.7" y2="202.8" stroke="#2F60EA" stroke-width="1.9"/>
<rect x="0" y="5" width="688" height="19" fill="#FFFFFF" fill-opacity="0.5"/>
<!-- last price dotted -->
<line x1="1" y1="192.5" x2="1181" y2="192.5" stroke="#7A565B" stroke-width="1.2" stroke-dasharray="1.2 1.8"/>
<!-- purple lines -->
<rect x="0" y="194" width="1181" height="2" fill="#8E22A2" shape-rendering="crispEdges"/>
<rect x="0" y="215" width="1181" height="2" fill="#7B1F8E" shape-rendering="crispEdges"/>
<!-- RSI MA and line -->
<path d="M0.0,401.5 L3.0,403.9 L6.0,406.3 L9.0,408.6 L12.0,411.0 L15.0,413.4 L18.0,415.2 L21.0,417.0 L24.0,418.8 L27.0,420.6 L30.0,422.4 L33.0,423.9 L36.0,425.4 L39.0,427.0 L42.0,428.5 L45.0,430.0 L48.0,431.7 L51.0,433.4 L54.0,435.0 L57.0,436.7 L60.0,436.9 L63.0,437.2 L66.0,437.4 L69.0,435.9 L72.0,434.4 L75.0,432.9 L78.0,431.4 L80.5,430.6 L86.5,427.6 L92.5,421.0 L98.5,415.0 L104.5,411.1 L110.5,406.5 L116.5,402.4 L122.5,398.6 L128.5,395.5 L134.5,392.7 L140.5,390.1 L146.5,388.3 L152.5,387.2 L158.5,386.5 L164.5,384.8 L170.5,385.6 L176.5,388.8 L182.5,393.0 L188.5,396.4 L194.5,398.7 L200.5,397.7 L206.5,393.5 L212.5,389.0 L218.5,385.3 L224.5,382.8 L230.5,382.2 L236.5,381.4 L242.5,381.4 L248.5,381.3 L254.5,375.4 L260.5,370.5 L266.5,365.2 L272.5,358.0 L278.5,351.1 L284.5,344.8 L290.5,339.4 L296.5,333.8 L302.5,329.2 L308.5,322.3 L314.5,315.3 L320.5,307.6 L326.5,298.1 L332.5,290.7 L338.5,286.1 L344.5,282.9 L350.5,281.5 L356.5,280.4 L362.5,279.1 L368.5,278.6 L374.5,279.2 L380.5,280.6 L386.5,280.5 L392.5,280.4 L398.5,280.2 L404.5,280.6 L410.5,282.0 L416.5,285.4 L422.5,289.9 L428.5,293.4 L434.5,297.5 L440.5,301.6 L446.5,305.8 L452.5,308.0 L458.5,310.0 L464.5,312.6 L470.5,316.2 L476.5,320.6 L482.5,325.6 L488.5,330.8 L494.5,335.3 L500.5,336.4 L506.5,337.2 L512.5,336.8 L518.5,335.2 L524.5,335.2 L530.5,336.7 L536.5,340.3 L542.5,343.3 L548.5,344.8 L554.5,342.4 L560.5,338.8 L566.5,334.8 L572.5,329.7 L578.5,324.0 L584.5,321.5 L590.5,317.8 L596.5,315.2 L602.5,313.0 L608.5,310.5 L614.5,308.4 L620.5,304.9 L626.5,301.0 L632.5,297.1 L638.5,296.6 L644.5,296.6 L650.5,298.5 L656.5,302.8 L662.5,306.3 L668.5,310.1 L674.5,314.2 L680.5,319.0 L686.5,324.1 L692.5,328.8 L698.5,331.0 L704.5,334.3 L710.5,339.1 L716.5,344.9 L722.5,351.4 L728.5,358.0 L734.5,362.8 L740.5,365.5 L746.5,369.0 L752.5,371.3 L758.5,374.2 L764.5,377.3 L770.5,380.4 L776.5,385.0 L782.5,390.6 L788.5,394.7 L794.5,398.7 L800.5,401.5 L806.5,401.8 L812.5,402.2 L818.5,403.0 L824.5,405.1 L830.5,407.4 L836.5,410.9 L842.5,412.2 L848.5,411.4 L854.5,408.5 L860.5,404.3 L866.5,399.5 L872.5,394.5 L878.5,388.8 L884.5,382.6 L890.5,376.1 L896.5,370.4 L902.5,368.4 L908.5,367.2 L914.5,365.8 L920.5,363.0 L926.5,363.8 L932.5,364.7 L938.5,364.5 L944.5,365.6 L950.5,367.7 L956.5,372.3 L962.5,377.2 L968.5,383.3 L974.5,390.2 L980.5,396.9 L986.5,399.1 L992.5,400.3 L998.5,401.0 L1004.5,400.3 L1010.5,398.4 L1016.5,396.1 L1022.5,398.0 L1028.5,399.7 L1034.5,400.6 L1040.5,399.1 L1046.5,397.7 L1052.5,397.0 L1058.5,397.8 L1064.5,398.2 L1070.5,395.3 L1076.5,394.5 L1082.5,393.4 L1088.5,395.0 L1094.5,396.7 L1100.5,399.8 L1106.5,403.0 L1112.5,405.8 L1118.5,408.2" fill="none" stroke="#F2E07A" stroke-width="1.6" stroke-linejoin="round"/>
<path d="M-3.5,454.0 L2.5,447.0 L8.5,438.0 L14.5,415.0 L20.5,408.0 L26.5,434.5 L32.5,441.5 L38.5,447.0 L44.5,450.0 L50.5,445.5 L56.5,449.0 L62.5,422.5 L68.5,416.0 L74.5,405.0 L80.5,417.0 L86.5,405.0 L92.5,340.4 L98.5,329.7 L104.5,358.4 L110.5,363.7 L116.5,380.5 L122.5,391.0 L128.5,410.4 L134.5,405.2 L140.5,412.7 L146.5,396.2 L152.5,401.5 L158.5,403.7 L164.5,385.0 L170.5,420.9 L176.5,384.2 L182.5,387.2 L188.5,408.5 L194.5,399.5 L200.5,365.0 L206.5,330.7 L212.5,336.0 L218.5,352.4 L224.5,380.0 L230.5,392.0 L236.5,390.8 L242.5,405.4 L248.5,391.2 L254.5,332.2 L260.5,320.0 L266.5,311.0 L272.5,297.0 L278.5,294.0 L284.5,279.0 L290.5,269.2 L296.5,268.5 L302.5,291.7 L308.5,277.5 L314.5,303.7 L320.5,281.2 L326.5,275.2 L332.5,273.7 L338.5,266.2 L344.5,276.7 L350.5,290.2 L356.5,285.0 L362.5,268.5 L368.5,266.2 L374.5,283.5 L380.5,291.7 L386.5,288.0 L392.5,274.5 L398.5,294.0 L404.5,290.2 L410.5,294.0 L416.5,319.0 L422.5,334.0 L428.5,324.2 L434.5,349.1 L440.5,338.7 L446.5,328.9 L452.5,298.2 L458.5,308.7 L464.5,318.4 L470.5,339.2 L476.5,341.0 L482.5,359.2 L488.5,360.0 L494.5,377.2 L500.5,329.7 L506.5,351.0 L512.5,322.9 L518.5,320.7 L524.5,336.0 L530.5,343.4 L536.5,357.7 L542.5,349.5 L548.5,343.4 L554.5,312.4 L560.5,294.5 L566.5,307.2 L572.5,284.7 L578.5,284.7 L584.5,304.2 L590.5,290.0 L596.5,289.0 L602.5,290.3 L608.5,296.7 L614.5,320.7 L620.5,311.7 L626.5,293.0 L632.5,286.2 L638.5,298.2 L644.5,294.5 L650.5,323.0 L656.5,353.5 L662.5,334.5 L668.5,350.0 L674.5,347.7 L680.5,359.0 L686.5,368.0 L692.5,361.2 L698.5,342.0 L704.5,356.0 L710.5,357.5 L716.5,370.2 L722.5,388.9 L728.5,388.2 L734.5,399.4 L740.5,384.0 L746.5,387.3 L752.5,378.3 L758.5,390.3 L764.5,405.7 L770.5,410.4 L776.5,420.9 L782.5,431.4 L788.5,405.2 L794.5,419.4 L800.5,410.4 L806.5,393.0 L812.5,397.1 L818.5,402.0 L824.5,413.4 L830.5,422.4 L836.5,438.9 L842.5,395.5 L848.5,401.5 L854.5,364.0 L860.5,360.0 L866.5,356.4 L872.5,337.7 L878.5,334.0 L884.5,319.0 L890.5,304.7 L896.5,328.7 L902.5,383.6 L908.5,395.2 L914.5,405.7 L920.5,396.3 L926.5,406.9 L932.5,417.4 L938.5,357.4 L944.5,371.0 L950.5,388.2 L956.5,406.6 L962.5,406.9 L968.5,407.4 L974.5,406.2 L980.5,411.4 L986.5,415.2 L992.5,406.2 L998.5,419.7 L1004.5,386.7 L1010.5,383.0 L1016.5,372.5 L1022.5,388.9 L1028.5,395.7 L1034.5,401.7 L1040.5,385.8 L1046.5,388.5 L1052.5,400.8 L1058.5,413.3 L1064.5,419.2 L1070.5,370.2 L1076.5,405.4 L1082.5,397.2 L1088.5,408.7 L1094.5,403.4 L1100.5,417.1 L1106.5,435.0 L1112.5,432.3 L1118.5,438.2" fill="none" stroke="#7264BC" stroke-width="1.0" stroke-linejoin="round"/>
<circle cx="15.9" cy="14.8" r="8.9" fill="#283D7A"/>
<text x="15.8" y="17.2" font-size="6.2" font-weight="700" fill="#E8ECF8" text-anchor="middle" font-family="Liberation Sans, sans-serif" textLength="9.6" lengthAdjust="spacingAndGlyphs">300</text>
<text x="29.50" y="20.6" font-size="15" font-weight="400" fill="#22262F" textLength="94.60" lengthAdjust="spacingAndGlyphs" font-family="Liberation Sans, sans-serif">CSI 300 Index</text>
<text x="137.60" y="20.6" font-size="15" font-weight="400" fill="#22262F" textLength="15.20" lengthAdjust="spacingAndGlyphs" font-family="Liberation Sans, sans-serif">1D</text>
<text x="166.30" y="20.6" font-size="15" font-weight="400" fill="#22262F" textLength="23.50" lengthAdjust="spacingAndGlyphs" font-family="Liberation Sans, sans-serif">SSE</text>
<circle cx="130.2" cy="15.6" r="1.15" fill="#131722"/><circle cx="160.4" cy="15.6" r="1.15" fill="#131722"/>
<path d="M214.1,6.2 H225.8 V21.8 H214.1 A7.8,7.8 0 0 1 214.1,6.2 Z" fill="#E2EFEC"/>
<path d="M225.8,6.2 H238 A7.8,7.8 0 0 1 238,21.8 H225.8 Z" fill="#FDE6CF"/>
<circle cx="216.9" cy="14.9" r="3.9" fill="#089981"/>
<text x="231.3" y="19.4" font-size="12.5" font-weight="700" fill="#F57C00" font-family="Liberation Sans, sans-serif" textLength="7.6" lengthAdjust="spacingAndGlyphs">D</text>
<text x="262.00" y="19.9" font-size="12" font-weight="400" fill="#22262F" textLength="-7.20" lengthAdjust="spacingAndGlyphs" font-family="Liberation Sans, sans-serif">O</text>
<text x="271.00" y="19.9" font-size="12" font-weight="400" fill="#E0404C" textLength="63.80" lengthAdjust="spacingAndGlyphs" font-family="Liberation Sans, sans-serif">3,187.0508</text>
<text x="342.00" y="19.9" font-size="12" font-weight="400" fill="#22262F" textLength="-5.20" lengthAdjust="spacingAndGlyphs" font-family="Liberation Sans, sans-serif">H</text>
<text x="352.00" y="19.9" font-size="12" font-weight="400" fill="#E0404C" textLength="61.80" lengthAdjust="spacingAndGlyphs" font-family="Liberation Sans, sans-serif">3,197.3363</text>
<text x="422.00" y="19.9" font-size="12" font-weight="400" fill="#22262F" textLength="4.80" lengthAdjust="spacingAndGlyphs" font-family="Liberation Sans, sans-serif">L</text>
<text x="430.00" y="19.9" font-size="12" font-weight="400" fill="#E0404C" textLength="61.80" lengthAdjust="spacingAndGlyphs" font-family="Liberation Sans, sans-serif">3,174.0343</text>
<text x="499.00" y="19.9" font-size="12" font-weight="400" fill="#22262F" textLength="-5.20" lengthAdjust="spacingAndGlyphs" font-family="Liberation Sans, sans-serif">C</text>
<text x="508.00" y="19.9" font-size="12" font-weight="400" fill="#E0404C" textLength="62.80" lengthAdjust="spacingAndGlyphs" font-family="Liberation Sans, sans-serif">3,182.0148</text>
<text x="578.00" y="19.9" font-size="12" font-weight="400" fill="#E0404C" textLength="50.80" lengthAdjust="spacingAndGlyphs" font-family="Liberation Sans, sans-serif">−13.7403</text>
<text x="635.00" y="19.9" font-size="12" font-weight="400" fill="#E0404C" textLength="46.80" lengthAdjust="spacingAndGlyphs" font-family="Liberation Sans, sans-serif">(−0.43%)</text>
<rect x="6.5" y="31.5" width="86.5" height="33" rx="5" fill="#FFFFFF" stroke="#D9505B" stroke-width="1"/>
<rect x="139.5" y="31.5" width="86" height="33" rx="5" fill="#FFFFFF" stroke="#4468D6" stroke-width="1"/>
<text x="17.00" y="45.6" font-size="11.5" font-weight="400" fill="#D83C48" textLength="63.80" lengthAdjust="spacingAndGlyphs" font-family="Liberation Sans, sans-serif">3,182.0148</text>
<text x="38.00" y="59.4" font-size="10" font-weight="400" fill="#D83C48" textLength="22.80" lengthAdjust="spacingAndGlyphs" font-family="Liberation Sans, sans-serif">SELL</text>
<text x="101.00" y="51.6" font-size="9.5" font-weight="400" fill="#22262F" textLength="29.80" lengthAdjust="spacingAndGlyphs" font-family="Liberation Sans, sans-serif">0.0000</text>
<text x="151.00" y="45.6" font-size="11.5" font-weight="400" fill="#3A5FDA" textLength="62.80" lengthAdjust="spacingAndGlyphs" font-family="Liberation Sans, sans-serif">3,182.0148</text>
<text x="173.00" y="59.4" font-size="10" font-weight="400" fill="#3A5FDA" textLength="18.80" lengthAdjust="spacingAndGlyphs" font-family="Liberation Sans, sans-serif">BUY</text>
<text x="7.00" y="85.8" font-size="12" font-weight="400" fill="#22262F" textLength="72.80" lengthAdjust="spacingAndGlyphs" font-family="Liberation Sans, sans-serif">SMA 50 close</text>
<text x="90.00" y="85.8" font-size="12" font-weight="400" fill="#3A2DC0" textLength="62.80" lengthAdjust="spacingAndGlyphs" font-family="Liberation Sans, sans-serif">3,363.7620</text>
<rect x="7.5" y="95.5" width="28" height="20" rx="3" fill="#FFFFFF" fill-opacity="0.92" stroke="#E0E3EB" stroke-width="1"/>
<path d="M17.3,107.6 L21.4,103.6 L25.5,107.6" fill="none" stroke="#131722" stroke-width="1.6"/>
<text x="7.00" y="257.9" font-size="11" font-weight="400" fill="#22262F" textLength="67.80" lengthAdjust="spacingAndGlyphs" font-family="Liberation Sans, sans-serif">RSI 14 close</text>
<text x="84.00" y="257.9" font-size="11" font-weight="400" fill="#7E57C2" textLength="30.80" lengthAdjust="spacingAndGlyphs" font-family="Liberation Sans, sans-serif">27.31</text>
<text x="122.00" y="257.9" font-size="11" font-weight="400" fill="#F0CE2C" textLength="30.80" lengthAdjust="spacingAndGlyphs" font-family="Liberation Sans, sans-serif">34.54</text>
<ellipse cx="164.1" cy="252.9" rx="2.9" ry="3.9" fill="none" stroke="#2A2E38" stroke-width="0.95"/>
<line x1="161.2" y1="257.6" x2="166.7" y2="248.3" stroke="#22262F" stroke-width="0.8"/>
<ellipse cx="178.0" cy="252.9" rx="2.9" ry="3.9" fill="none" stroke="#2A2E38" stroke-width="0.95"/>
<line x1="175.1" y1="257.6" x2="180.6" y2="248.3" stroke="#22262F" stroke-width="0.8"/>
<ellipse cx="191.9" cy="252.9" rx="2.9" ry="3.9" fill="none" stroke="#2A2E38" stroke-width="0.95"/>
<line x1="189.0" y1="257.6" x2="194.5" y2="248.3" stroke="#22262F" stroke-width="0.8"/>
<ellipse cx="206.0" cy="252.9" rx="2.9" ry="3.9" fill="none" stroke="#2A2E38" stroke-width="0.95"/>
<line x1="203.1" y1="257.6" x2="208.6" y2="248.3" stroke="#22262F" stroke-width="0.8"/>
<rect x="1097.5" y="3.5" width="23" height="23" rx="4" fill="#FFFFFF" fill-opacity="0.55" stroke="#E0E3EB" stroke-opacity="0.6" stroke-width="1"/>
<rect x="1125.5" y="3.5" width="23" height="23" rx="4" fill="#FFFFFF" fill-opacity="0.55" stroke="#E0E3EB" stroke-opacity="0.6" stroke-width="1"/>
<rect x="1153.5" y="3.5" width="23" height="23" rx="4" fill="#FFFFFF" fill-opacity="0.55" stroke="#E0E3EB" stroke-opacity="0.6" stroke-width="1"/>
<path d="M1109.5,10.5 V20.5 M1105.5,16.8 L1109.5,20.6 L1113.5,16.8" fill="none" stroke="#8A8D97" stroke-width="1.2"/>
<path d="M1133.5,9.8 L1137.4,13.2 L1141.3,9.8 M1133.5,21 L1137.4,17.8 L1141.3,21" fill="none" stroke="#8A8D97" stroke-width="1.2"/>
<path d="M1160.5,13.5 V12.5 A2,2 0 0 1 1162.5,10.5 H1168.5 A2,2 0 0 1 1170.5,12.5 V13.5 M1160.5,17.5 V18.5 A2,2 0 0 0 1162.5,20.5 H1168.5 A2,2 0 0 0 1170.5,18.5 V17.5" fill="none" stroke="#8A8D97" stroke-width="1.2"/>
<rect x="1185.5" y="3.5" width="68.5" height="25" rx="4" fill="#FFFFFF" stroke="#E0E3EB" stroke-width="1"/>
<text x="1190.00" y="19.8" font-size="12" font-weight="400" fill="#22262F" textLength="20.80" lengthAdjust="spacingAndGlyphs" font-family="Liberation Sans, sans-serif">CNY</text>
<path d="M1245,15.3 L1247.5,17.8 L1250,15.3" fill="none" stroke="#131722" stroke-width="1.5"/>
<text x="1190.00" y="59.9" font-size="12" font-weight="400" fill="#22262F" textLength="58.80" lengthAdjust="spacingAndGlyphs" font-family="Liberation Sans, sans-serif">3,600.0000</text>
<text x="1190.00" y="92.2" font-size="12" font-weight="400" fill="#22262F" textLength="58.80" lengthAdjust="spacingAndGlyphs" font-family="Liberation Sans, sans-serif">3,500.0000</text>
<text x="1190.00" y="124.6" font-size="12" font-weight="400" fill="#22262F" textLength="58.80" lengthAdjust="spacingAndGlyphs" font-family="Liberation Sans, sans-serif">3,400.0000</text>
<text x="1190.00" y="157.0" font-size="12" font-weight="400" fill="#22262F" textLength="58.80" lengthAdjust="spacingAndGlyphs" font-family="Liberation Sans, sans-serif">3,300.0000</text>
<text x="1190.00" y="189.6" font-size="12" font-weight="400" fill="#22262F" textLength="58.80" lengthAdjust="spacingAndGlyphs" font-family="Liberation Sans, sans-serif">3,200.0000</text>
<text x="1190.00" y="265.7" font-size="12" font-weight="400" fill="#22262F" textLength="28.80" lengthAdjust="spacingAndGlyphs" font-family="Liberation Sans, sans-serif">70.00</text>
<text x="1191.00" y="307.2" font-size="12" font-weight="400" fill="#22262F" textLength="27.80" lengthAdjust="spacingAndGlyphs" font-family="Liberation Sans, sans-serif">60.00</text>
<text x="1191.00" y="348.8" font-size="12" font-weight="400" fill="#22262F" textLength="27.80" lengthAdjust="spacingAndGlyphs" font-family="Liberation Sans, sans-serif">50.00</text>
<text x="1191.00" y="390.3" font-size="12" font-weight="400" fill="#22262F" textLength="27.80" lengthAdjust="spacingAndGlyphs" font-family="Liberation Sans, sans-serif">40.00</text>
<text x="1191.00" y="431.6" font-size="12" font-weight="400" fill="#22262F" textLength="27.80" lengthAdjust="spacingAndGlyphs" font-family="Liberation Sans, sans-serif">30.00</text>
<text x="1190.00" y="473.0" font-size="12" font-weight="400" fill="#22262F" textLength="28.80" lengthAdjust="spacingAndGlyphs" font-family="Liberation Sans, sans-serif">20.00</text>
<rect x="1182" y="125" width="73" height="17" fill="#3320F5"/>
<text x="1190.00" y="137.0" font-size="12" font-weight="400" fill="#FFFFFF" textLength="58.80" lengthAdjust="spacingAndGlyphs" font-family="Liberation Sans, sans-serif">3,363.7620</text>
<rect x="1182" y="184" width="73" height="31" fill="#F23645"/>
<text x="1190.00" y="195.9" font-size="12" font-weight="400" fill="#FFE3E6" textLength="58.80" lengthAdjust="spacingAndGlyphs" font-family="Liberation Sans, sans-serif">3,182.0148</text>
<text x="1190.00" y="210.1" font-size="12" font-weight="400" fill="#FBCBD0" textLength="45.80" lengthAdjust="spacingAndGlyphs" font-family="Liberation Sans, sans-serif">03:40:23</text>
<svg x="1182" y="215" width="73" height="21" overflow="hidden"><rect x="0" y="0" width="73" height="21" fill="#9C27B0"/></svg>
<clipPath id="ppclip"><rect x="1182" y="215" width="73" height="21"/></clipPath>
<g clip-path="url(#ppclip)"><text x="1190.00" y="226.5" font-size="12" font-weight="400" fill="#FFE6FF" textLength="57.80" lengthAdjust="spacingAndGlyphs" font-family="Liberation Sans, sans-serif">3,171.7900</text><text x="1190.00" y="245.5" font-size="12" font-weight="400" fill="#FFE6FF" textLength="57.80" lengthAdjust="spacingAndGlyphs" font-family="Liberation Sans, sans-serif">3,107.0000</text></g>
<path d="M1182,400 H1223 A2,2 0 0 1 1225,402 V414.4 A2,2 0 0 1 1223,416.4 H1182 Z" fill="#FAD532"/>
<text x="1190.00" y="412.8" font-size="12" font-weight="400" fill="#22262F" textLength="28.80" lengthAdjust="spacingAndGlyphs" font-family="Liberation Sans, sans-serif">34.54</text>
<path d="M1182,430 H1223 A2,2 0 0 1 1225,432 V444.7 A2,2 0 0 1 1223,446.7 H1182 Z" fill="#7E57C2"/>
<text x="1190.00" y="442.8" font-size="12" font-weight="400" fill="#FFFFFF" textLength="28.80" lengthAdjust="spacingAndGlyphs" font-family="Liberation Sans, sans-serif">27.31</text>
<text x="91.00" y="498" font-size="12" font-weight="400" fill="#22262F" textLength="25.80" lengthAdjust="spacingAndGlyphs" font-family="Liberation Sans, sans-serif">2024</text>
<text x="227.00" y="498" font-size="12" font-weight="400" fill="#22262F" textLength="17.80" lengthAdjust="spacingAndGlyphs" font-family="Liberation Sans, sans-serif">Feb</text>
<text x="316.00" y="498" font-size="12" font-weight="400" fill="#22262F" textLength="20.80" lengthAdjust="spacingAndGlyphs" font-family="Liberation Sans, sans-serif">Mar</text>
<text x="443.00" y="498" font-size="12" font-weight="400" fill="#22262F" textLength="19.80" lengthAdjust="spacingAndGlyphs" font-family="Liberation Sans, sans-serif">Apr</text>
<text x="562.00" y="498" font-size="12" font-weight="400" fill="#22262F" textLength="20.80" lengthAdjust="spacingAndGlyphs" font-family="Liberation Sans, sans-serif">May</text>
<text x="683.00" y="498" font-size="12" font-weight="400" fill="#22262F" textLength="17.80" lengthAdjust="spacingAndGlyphs" font-family="Liberation Sans, sans-serif">Jun</text>
<text x="798.00" y="498" font-size="12" font-weight="400" fill="#22262F" textLength="16.80" lengthAdjust="spacingAndGlyphs" font-family="Liberation Sans, sans-serif">Jul</text>
<text x="933.00" y="498" font-size="12" font-weight="400" fill="#22262F" textLength="21.80" lengthAdjust="spacingAndGlyphs" font-family="Liberation Sans, sans-serif">Aug</text>
<text x="1066.00" y="498" font-size="12" font-weight="400" fill="#22262F" textLength="18.80" lengthAdjust="spacingAndGlyphs" font-family="Liberation Sans, sans-serif">Sep</text>
<text x="1154.00" y="498" font-size="12" font-weight="400" fill="#22262F" textLength="11.80" lengthAdjust="spacingAndGlyphs" font-family="Liberation Sans, sans-serif">24</text>
<polygon points="1227.60,494.20 1224.00,499.81 1216.80,499.81 1213.20,494.20 1216.80,488.59 1224.00,488.59" fill="none" stroke="#131722" stroke-width="1.3" stroke-linejoin="round"/>
<circle cx="1220.4" cy="494.2" r="2.2" fill="none" stroke="#131722" stroke-width="1.2"/>
<rect x="0" y="508" width="1255" height="1" fill="#D1D4DC"/>
<rect x="6" y="449" width="166" height="22" fill="#FFFFFF"/>
<path d="M10,451 H22.5 V466 H16.5 V457.3 H10 Z" fill="#131722"/>
<circle cx="27.3" cy="454.3" r="2.7" fill="#131722"/>
<path d="M32.2,451 H39.4 L33.6,466 H26.4 Z" fill="#131722"/>
<text x="48.00" y="465.9" font-size="20" font-weight="700" fill="#131722" textLength="118.80" lengthAdjust="spacingAndGlyphs" font-family="Liberation Sans, sans-serif">TradingView</text>
</svg>
</body></html>
